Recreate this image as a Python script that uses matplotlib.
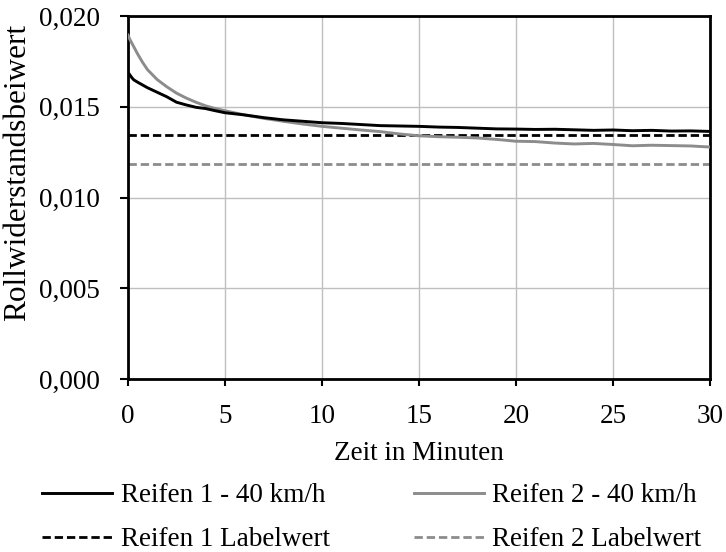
import matplotlib
matplotlib.use("Agg")
import matplotlib.pyplot as plt
from matplotlib.ticker import FuncFormatter

plt.rcParams['font.family'] = ['Liberation Serif', 'DejaVu Serif']

time_min = [0, 0.1, 0.2, 0.3, 0.5, 0.75, 1, 1.5, 2, 2.5, 3, 3.5, 4, 4.5, 5,
            6, 7, 8, 9, 10, 11, 12, 13, 14, 15, 16, 17, 18, 19, 20,
            21, 22, 23, 24, 25, 26, 27, 28, 29, 30]
reifen1 = [0.01690, 0.01675, 0.01660, 0.01648, 0.01635, 0.01620, 0.01605, 0.01580,
           0.01555, 0.01525, 0.01510, 0.01497, 0.01490, 0.01478, 0.01467,
           0.01455, 0.01440, 0.01428, 0.01420, 0.01412, 0.01408, 0.01402, 0.01396,
           0.01394, 0.01392, 0.01388, 0.01386, 0.01382, 0.01378, 0.01377,
           0.01375, 0.01376, 0.01373, 0.01370, 0.01372, 0.01368, 0.01370, 0.01366,
           0.01367, 0.01364]
reifen2 = [0.01895, 0.01870, 0.01850, 0.01830, 0.01790, 0.01745, 0.01705, 0.01650,
           0.01610, 0.01575, 0.01548, 0.01525, 0.01505, 0.01490, 0.01478,
           0.01455, 0.01436, 0.01420, 0.01405, 0.01392, 0.01382, 0.01372, 0.01363,
           0.01350, 0.01340, 0.01335, 0.01332, 0.01328, 0.01320, 0.01310,
           0.01308, 0.01300, 0.01295, 0.01298, 0.01292, 0.01285, 0.01288, 0.01286,
           0.01284, 0.01278]
label1 = 0.01345
label2 = 0.01185

x_ticks = [0, 5, 10, 15, 20, 25, 30]
y_ticks = [0.000, 0.005, 0.010, 0.015, 0.020]

series_names = ["Reifen 1 - 40 km/h", "Reifen 2 - 40 km/h",
                "Reifen 1 Labelwert", "Reifen 2 Labelwert"]

FS = 19.5
fig = plt.figure(figsize=(7.26, 5.52), dpi=100)
ax = fig.add_axes([128/726, 1-379/552, (710-128)/726, (379-16)/552])

gray = '#8c8c8c'
dash = (0, (3.0, 1.4))
l1, = ax.plot(time_min, reifen1, color='black', lw=2.1, zorder=4)
l2, = ax.plot(time_min, reifen2, color=gray, lw=2.1, zorder=3)
l3 = ax.axhline(label1, color='black', lw=2.0, ls=dash, zorder=2)
l4 = ax.axhline(label2, color=gray, lw=2.0, ls=dash, zorder=2)

ax.set_xlim(0, 30)
ax.set_ylim(0, 0.020)
ax.set_xticks(x_ticks)
ax.set_yticks(y_ticks)
ax.yaxis.set_major_formatter(FuncFormatter(lambda v, p: f"{v:.3f}".replace('.', ',')))
ax.grid(True, color='#bfbfbf', lw=1.0)
ax.set_axisbelow(True)
for s in ax.spines.values():
    s.set_linewidth(2.0)
    s.set_color('black')
ax.tick_params(axis='both', labelsize=FS, width=1.5, direction='out', colors='black')
ax.tick_params(axis='y', length=6, pad=14)
ax.tick_params(axis='x', length=5, pad=13)
ax.set_xlabel("Zeit in Minuten", fontsize=FS, labelpad=9)
ax.set_ylabel("Rollwiderstandsbeiwert", fontsize=22.5)
ax.yaxis.set_label_coords((32-128)/582, (379-172.5)/363)

# legend: order row-wise
handles = [l1, l3, l2, l4]
labels = [series_names[0], series_names[2], series_names[1], series_names[3]]
fig.legend(handles, labels, ncol=2, loc='center left',
           bbox_to_anchor=(42/726, 1-517.5/552),
           frameon=False, fontsize=FS, handlelength=2.6, handletextpad=0.3,
           columnspacing=3.1, labelspacing=0.70, borderpad=0, borderaxespad=0)

fig.savefig("out.png", dpi=100)
